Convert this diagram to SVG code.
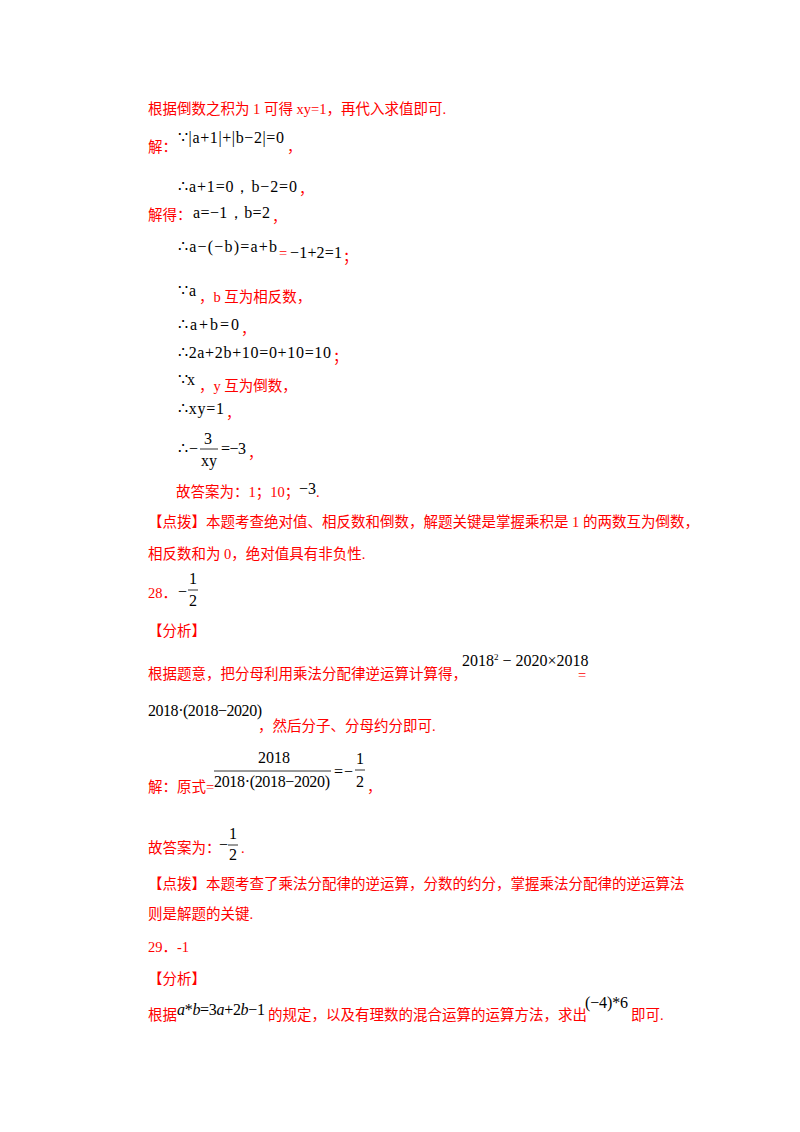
<svg xmlns="http://www.w3.org/2000/svg" width="800" height="1132" viewBox="0 0 800 1132">
<style>
.r{fill:#f00;font-family:"Liberation Serif","Noto Sans CJK SC",serif;font-size:14.5px}
.m{fill:#000;font-family:"Liberation Serif",serif;font-size:16px}
.i{font-style:italic}
.l{stroke:#000;stroke-width:0.8}
</style>
<rect width="800" height="1132" fill="#fff"/>
<text class="r" x="148" y="114">根据倒数之积为 1 可得 xy=1，再代入求值即可.</text>
<text class="r" x="148" y="152">解：</text>
<text class="m" x="178" y="143" textLength="106" lengthAdjust="spacing">∵|a+1|+|b−2|=0</text>
<text class="r" x="287" y="152">，</text>
<text class="m" x="178" y="192" textLength="119" lengthAdjust="spacing">∴a+1=0，b−2=0</text>
<text class="r" x="299" y="194">，</text>
<text class="r" x="148" y="220">解得：</text>
<text class="m" x="193" y="218" textLength="77" lengthAdjust="spacing">a=−1，b=2</text>
<text class="r" x="272" y="222">，</text>
<text class="m" x="178" y="252" textLength="99" lengthAdjust="spacing">∴a−(−b)=a+b</text>
<text class="r" x="279" y="258">=</text>
<text class="m" x="290" y="258" textLength="52" lengthAdjust="spacing">−1+2=1</text>
<text class="r" x="343" y="262">；</text>
<text class="m" x="178" y="296" textLength="18" lengthAdjust="spacing">∵a</text>
<text class="r" x="199" y="302">，b 互为相反数，</text>
<text class="m" x="178" y="330" textLength="61" lengthAdjust="spacing">∴a+b=0</text>
<text class="r" x="241" y="334">，</text>
<text class="m" x="178" y="358" textLength="153" lengthAdjust="spacing">∴2a+2b+10=0+10=10</text>
<text class="r" x="333" y="362">；</text>
<text class="m" x="178" y="385" textLength="17" lengthAdjust="spacing">∵x</text>
<text class="r" x="199" y="391">，y 互为倒数，</text>
<text class="m" x="178" y="414" textLength="46" lengthAdjust="spacing">∴xy=1</text>
<text class="r" x="226" y="418">，</text>
<text class="m" x="178" y="454" textLength="20" lengthAdjust="spacing">∴−</text>
<text class="m" x="204" y="444">3</text>
<line class="l" x1="200" y1="449" x2="218" y2="449"/>
<text class="m" x="201" y="466">xy</text>
<text class="m" x="221" y="454" textLength="25" lengthAdjust="spacing">=−3</text>
<text class="r" x="248" y="458">，</text>
<text class="r" x="176" y="497">故答案为：1；10；</text>
<text class="m" x="299" y="494">−3</text>
<text class="r" x="316" y="497">.</text>
<text class="r" x="148" y="527">【点拨】本题考查绝对值、相反数和倒数，解题关键是掌握乘积是 1 的两数互为倒数，</text>
<text class="r" x="148" y="559">相反数和为 0，绝对值具有非负性.</text>
<text class="r" x="148" y="598">28．</text>
<text class="m" x="178" y="597">−</text>
<text class="m" x="189" y="584">1</text>
<line class="l" x1="188" y1="590" x2="198" y2="590"/>
<text class="m" x="189" y="606">2</text>
<text class="r" x="148" y="636">【分析】</text>
<text class="r" x="148" y="679">根据题意，把分母利用乘法分配律逆运算计算得，</text>
<text class="m" x="462" y="666">2018<tspan font-size="9" dy="-6">2</tspan><tspan dy="6"> − 2020×2018</tspan></text>
<text class="r" x="578" y="680">=</text>
<text class="m" x="148" y="716" textLength="114" lengthAdjust="spacing">2018·(2018−2020)</text>
<text class="r" x="258" y="731">，然后分子、分母约分即可.</text>
<text class="r" x="148" y="792">解：原式=</text>
<text class="m" x="258" y="763">2018</text>
<line class="l" x1="214" y1="771" x2="331" y2="771"/>
<text class="m" x="214" y="787" textLength="116" lengthAdjust="spacing">2018·(2018−2020)</text>
<text class="m" x="334" y="777">=</text>
<text class="m" x="344" y="777">−</text>
<text class="m" x="356" y="764">1</text>
<line class="l" x1="355" y1="770" x2="365" y2="770"/>
<text class="m" x="356" y="787">2</text>
<text class="r" x="367" y="792">，</text>
<text class="r" x="148" y="853">故答案为：</text>
<text class="m" x="219" y="850">−</text>
<text class="m" x="229" y="839">1</text>
<line class="l" x1="228" y1="845" x2="238" y2="845"/>
<text class="m" x="229" y="860">2</text>
<text class="r" x="241" y="853">.</text>
<text class="r" x="148" y="889">【点拨】本题考查了乘法分配律的逆运算，分数的约分，掌握乘法分配律的逆运算法</text>
<text class="r" x="148" y="919">则是解题的关键.</text>
<text class="r" x="148" y="952">29．-1</text>
<text class="r" x="148" y="984">【分析】</text>
<text class="r" x="148" y="1020">根据</text>
<text class="m" x="177" y="1015" textLength="88" lengthAdjust="spacing"><tspan class="i">a</tspan>*<tspan class="i">b</tspan>=3<tspan class="i">a</tspan>+2<tspan class="i">b</tspan>−1</text>
<text class="r" x="268" y="1020">的规定，以及有理数的混合运算的运算方法，求出</text>
<text class="m" x="585" y="1008" textLength="43" lengthAdjust="spacing">(−4)*6</text>
<text class="r" x="631" y="1020">即可.</text>
</svg>
